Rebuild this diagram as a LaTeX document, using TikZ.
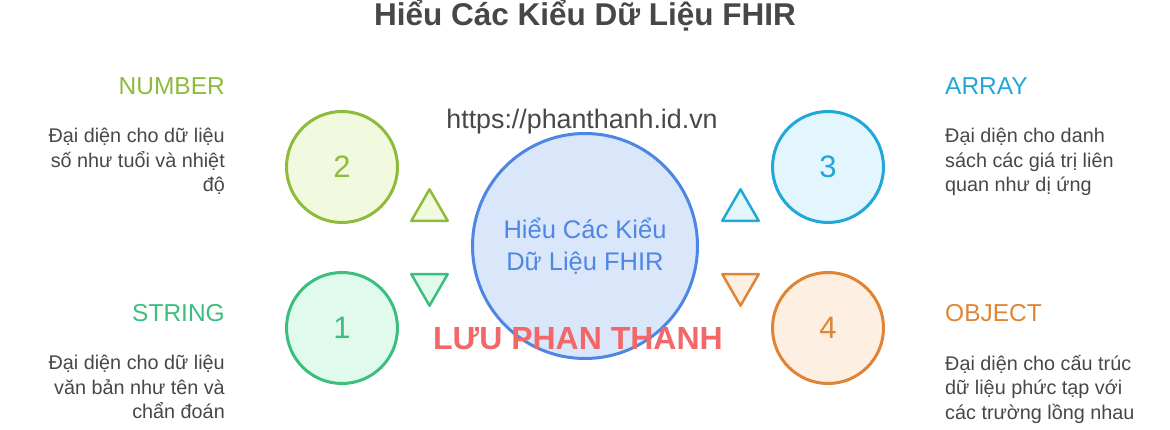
\documentclass[tikz,border=0pt]{standalone}
\usepackage{fontspec}
\setmainfont{Liberation Sans}
\usepackage{xcolor}
\usepackage{tikz}
\usetikzlibrary{shapes.geometric}
\definecolor{limeLine}{HTML}{8DBB3B}
\definecolor{limeFill}{HTML}{F1F9DF}
\definecolor{gruenLine}{HTML}{3DBE7E}
\definecolor{gruenFill}{HTML}{E0FAEE}
\definecolor{blauLine}{HTML}{21A8D8}
\definecolor{blauFill}{HTML}{E4F6FD}
\definecolor{orangeLine}{HTML}{DF8535}
\definecolor{orangeFill}{HTML}{FDEFE1}
\definecolor{mitteLine}{HTML}{4E86E4}
\definecolor{mitteFill}{HTML}{DAE7FB}
\definecolor{rotText}{HTML}{F26868}
\definecolor{grauText}{HTML}{474747}
\tikzset{
  Ring/.style 2 args={circle, draw=#1, fill=#2, line width=3pt, minimum size=111pt,
    inner sep=0pt, text=#1, font=\fontsize{31}{31}\selectfont}, % Zahlenkreise
  Dreieck/.style 2 args={regular polygon, regular polygon sides=3, draw=#1, fill=#2,
    line width=2.5pt, line join=round, minimum size=42pt, inner sep=0pt}, % Dreiecke
  Titel/.style={text=#1, font=\fontsize{24.5}{24.5}\selectfont, inner sep=0pt}, % Typnamen
  Beschr/.style={text=grauText, font=\fontsize{19.8}{24.5}\selectfont, inner sep=0pt} % Beschreibung
}
\begin{document}
\begin{tikzpicture}[x=1pt, y=-1pt]
\path[use as bounding box] (0,0) rectangle (1170,430);

%Orientierungshilfe
%\draw[help lines, step=50] (0,0) grid (1170,430);

%Ueberschrift
\node[anchor=base, inner sep=0pt, text=grauText, font=\bfseries\fontsize{31.5}{31.5}\selectfont]
  (titel) at (585,26) {Hiểu Các Kiểu Dữ Liệu FHIR};

%Mittelkreis
\node[circle, draw=mitteLine, fill=mitteFill, line width=3pt, minimum size=225pt,
  inner sep=0pt, align=center, text=mitteLine, font=\fontsize{25.5}{32}\selectfont]
  (mitte) at (585,246) {Hiểu Các Kiểu\\Dữ Liệu FHIR};
\node[inner sep=0pt, text=grauText, font=\fontsize{26.8}{26.8}\selectfont]
  (url) at (582,122) {https://phanthanh.id.vn};

%Kreise
\node[Ring={limeLine}{limeFill}]     (k2) at (342,167) {2};
\node[Ring={gruenLine}{gruenFill}]   (k1) at (342,328) {1};
\node[Ring={blauLine}{blauFill}]     (k3) at (828,167) {3};
\node[Ring={orangeLine}{orangeFill}] (k4) at (828,328) {4};

%Dreiecke
\node[Dreieck={limeLine}{limeFill}]   (d2) at (429.5,210.3) {};
\node[Dreieck={gruenLine}{gruenFill}, shape border rotate=180] (d1) at (429.5,284.7) {};
\node[Dreieck={blauLine}{blauFill}]   (d3) at (740.5,210.3) {};
\node[Dreieck={orangeLine}{orangeFill}, shape border rotate=180] (d4) at (740.5,284.7) {};

%Typnamen
\node[Titel=limeLine, anchor=base east]   (t2) at (225,94.5) {NUMBER};
\node[Titel=gruenLine, anchor=base east]  (t1) at (225,321.5) {STRING};
\node[Titel=blauLine, anchor=base west]   (t3) at (945,94.5) {ARRAY};
\node[Titel=orangeLine, anchor=base west] (t4) at (945,321.5) {OBJECT};

%Beschreibungen
\node[Beschr, anchor=north east, align=right] (b2) at (225,128)
  {Đại diện cho dữ liệu\\số như tuổi và nhiệt\\độ};
\node[Beschr, anchor=north east, align=right] (b1) at (225,355)
  {Đại diện cho dữ liệu\\văn bản như tên và\\chẩn đoán};
\node[Beschr, anchor=north west, align=left] (b3) at (945,128)
  {Đại diện cho danh\\sách các giá trị liên\\quan như dị ứng};
\node[Beschr, anchor=north west, align=left] (b4) at (945,355)
  {Đại diện cho cấu trúc\\dữ liệu phức tạp với\\các trường lồng nhau};

%Name
\node[anchor=base, inner sep=0pt, text=rotText, font=\bfseries\fontsize{32}{32}\selectfont]
  (name) at (578,349) {LƯU PHAN THANH};

\end{tikzpicture}
\end{document}
